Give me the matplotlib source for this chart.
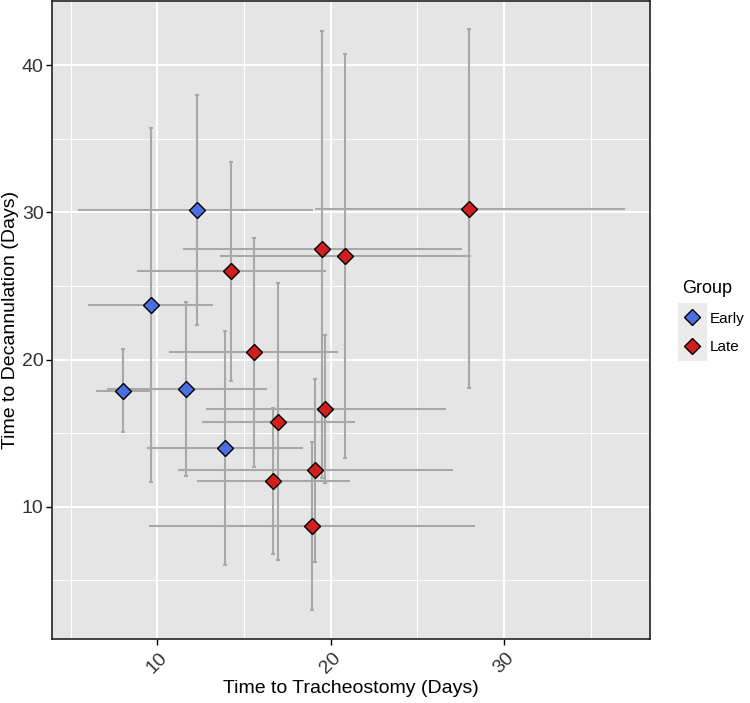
import numpy as np
import matplotlib
matplotlib.use("Agg")
import matplotlib.pyplot as plt
from matplotlib.lines import Line2D
from matplotlib.patches import Rectangle

plt.rcParams["font.family"] = ["Liberation Sans", "DejaVu Sans"]

# Early group
early_x = [12.27, 9.64, 8.04, 11.66, 13.92]
early_y = [30.17, 23.71, 17.89, 18.00, 14.01]
early_xlo = [5.44, 6.02, 6.45, 7.08, 9.39]
early_xhi = [19.00, 13.23, 9.60, 16.31, 18.43]
early_ylo = [22.35, 11.70, 15.06, 12.09, 6.04]
early_yhi = [38.00, 35.77, 20.72, 23.90, 21.94]

# Late group
late_x = [27.99, 19.50, 20.83, 14.25, 15.56, 16.98, 19.69, 16.69, 19.12, 18.91]
late_y = [30.24, 27.54, 27.02, 26.02, 20.50, 15.78, 16.62, 11.77, 12.49, 8.69]
late_xlo = [19.10, 11.46, 13.62, 8.85, 10.69, 12.60, 12.79, 12.27, 11.18, 9.50]
late_xhi = [36.97, 27.56, 28.08, 19.73, 20.45, 21.43, 26.64, 21.12, 27.08, 28.33]
late_ylo = [18.05, 11.95, 13.31, 18.57, 12.72, 6.38, 11.59, 6.78, 6.22, 2.98]
late_yhi = [42.47, 42.36, 40.75, 33.41, 28.29, 25.23, 21.67, 16.73, 18.68, 14.42]

groups = [
    ("Early", early_x, early_y, early_xlo, early_xhi, early_ylo, early_yhi, "#4B6FE0"),
    ("Late", late_x, late_y, late_xlo, late_xhi, late_ylo, late_yhi, "#D01F1F"),
]

fig = plt.figure(figsize=(7.5, 7.03), dpi=100)
ax = fig.add_axes([0.0693, 0.091, 0.7974, 0.9076])
ax.set_facecolor("#E5E5E5")

ax.set_xlim(3.92, 38.43)
ax.set_ylim(1.0, 44.37)
ax.set_xticks([10, 20, 30])
ax.set_yticks([10, 20, 30, 40])
ax.set_xticks([5, 15, 25, 35], minor=True)
ax.set_yticks([5, 15, 25, 35], minor=True)
ax.grid(which="major", color="white", linewidth=1.4)
ax.grid(which="minor", color="white", linewidth=0.7)
ax.set_axisbelow(True)
ax.tick_params(which="minor", length=0)
ax.tick_params(which="major", length=4, width=1, color="black",
               labelsize=14, labelcolor="#333333")
ax.tick_params(axis="y", pad=2)
for lab in ax.get_xticklabels():
    lab.set_rotation(45)
for s in ax.spines.values():
    s.set_color("#222222")
    s.set_linewidth(1.2)

bar_col = "#A8A8A8"
handles = []
for name, x, y, xlo, xhi, ylo, yhi, col in groups:
    x = np.array(x); y = np.array(y)
    xerr = [x - np.array(xlo), np.array(xhi) - x]
    yerr = [y - np.array(ylo), np.array(yhi) - y]
    ax.errorbar(x, y, xerr=xerr, fmt="none", ecolor=bar_col, elinewidth=1.5,
                capsize=0, zorder=2)
    ax.errorbar(x, y, yerr=yerr, fmt="none", ecolor=bar_col, elinewidth=1.5,
                capsize=1.5, capthick=1.5, zorder=2)
    ax.plot(x, y, "D", ms=8, mfc=col, mec="black", mew=1.0, ls="none", zorder=3)
    handles.append(Line2D([], [], marker="D", ms=8, mfc=col, mec="black",
                          mew=1.0, ls="none", label=name))

ax.set_xlabel("Time to Tracheostomy (Days)", fontsize=14, color="black", labelpad=2)
ax.set_ylabel("Time to Decannulation (Days)", fontsize=14, color="black", labelpad=2)

# legend key background
fig.patches.append(Rectangle((678 / 750, 1 - 361 / 703), 29 / 750, 58 / 703,
                             transform=fig.transFigure, facecolor="#EBEBEB",
                             edgecolor="none", zorder=0))

leg = fig.legend(handles=handles, title="Group", loc="upper left",
                 bbox_to_anchor=(0.902, 0.61), frameon=False, fontsize=11,
                 title_fontsize=13, handletextpad=0.6, borderaxespad=0,
                 labelspacing=0.95, handlelength=1.2)
leg._legend_box.align = "left"

fig.savefig("out.png", dpi=100)
